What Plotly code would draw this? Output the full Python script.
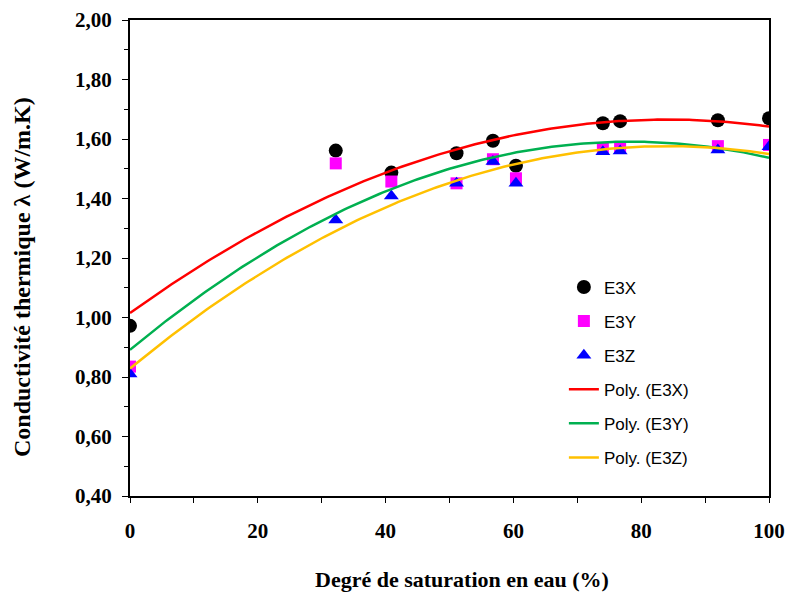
import numpy as np
import plotly.graph_objects as go

# Degré de saturation (%)
x_sat = [0, 32.2, 40.9, 51.1, 56.8, 60.4, 74.0, 76.7, 92.0, 100]
# Conductivité thermique (W/m.K)
e3x = [0.972, 1.561, 1.487, 1.552, 1.594, 1.510, 1.653, 1.660, 1.663, 1.670]
e3y = [0.835, 1.518, 1.457, 1.451, 1.532, 1.468, 1.569, 1.572, 1.576, 1.580]
e3z = [0.810, 1.328, 1.408, 1.451, 1.524, 1.451, 1.557, 1.560, 1.563, 1.574]

x_ticks = [0, 20, 40, 60, 80, 100]
y_ticks = [0.4, 0.6, 0.8, 1.0, 1.2, 1.4, 1.6, 1.8, 2.0]

x_title = "Degré de saturation en eau (%)"
y_title = "Conductivité thermique λ (W/m.K)"

series = [
    ("E3X", e3x, "circle", "#000000", 14, "#FF0000"),
    ("E3Y", e3y, "square", "#FF00FF", 12, "#00B050"),
    ("E3Z", e3z, "triangle-up", "#0000FF", 13, "#FFC000"),
]

fig = go.Figure()
for name, vals, sym, col, sz, _ in series:
    fig.add_trace(go.Scatter(
        x=x_sat, y=vals, mode="markers", name=name, legendgroup=name,
        marker=dict(symbol=sym, color=col, size=sz, line=dict(width=0)),
    ))

xs = np.linspace(0, 100, 201)
for name, vals, sym, col, sz, lcol in series:
    coef = np.polyfit(x_sat, vals, 2)
    fig.add_trace(go.Scatter(
        x=xs, y=np.polyval(coef, xs), mode="lines", name=f"Poly. ({name})",
        legendgroup="p" + name, line=dict(color=lcol, width=2.5),
    ))

tick_font = dict(family="Liberation Serif", size=21, color="#000000", weight="bold")

fig.update_layout(
    width=787, height=593,
    margin=dict(l=130, r=18, t=20, b=97),
    paper_bgcolor="white", plot_bgcolor="white",
    separators=",.",
    showlegend=True,
    legend=dict(
        x=0.679, y=0.476, xanchor="left", yanchor="top",
        font=dict(family="Liberation Sans", size=17, color="#000000"),
        bgcolor="rgba(0,0,0,0)", traceorder="grouped", tracegroupgap=9,
    ),
    xaxis=dict(
        range=[0, 100], tickvals=x_ticks, ticktext=[str(v) for v in x_ticks],
        showgrid=False, zeroline=False, showline=True, linecolor="black",
        linewidth=2, mirror=True, ticks="outside", ticklen=5, tickwidth=1,
        tickcolor="black", minor=dict(dtick=10, ticks="outside", ticklen=5, tickcolor="black"),
        tickfont=tick_font, ticklabelstandoff=10, automargin=False,
        ticklabeloverflow="allow",
    ),
    yaxis=dict(
        range=[0.4, 2.0], tickvals=y_ticks, tickformat=".2f",
        showgrid=False, zeroline=False, showline=True, linecolor="black",
        linewidth=2, mirror=True, ticks="outside", ticklen=6, tickwidth=1,
        tickcolor="black", minor=dict(dtick=0.1, ticks="outside", ticklen=4, tickcolor="black"),
        tickfont=tick_font, ticklabelstandoff=6, automargin=False,
    ),
    annotations=[
        dict(text=x_title, xref="paper", yref="paper", x=0.52, y=-0.176,
             xanchor="center", yanchor="middle", showarrow=False,
             font=dict(family="Liberation Serif", size=22, color="#000000", weight="bold")),
        dict(text=y_title, xref="paper", yref="paper", x=-0.169, y=0.46,
             xanchor="center", yanchor="middle", showarrow=False, textangle=-90,
             font=dict(family="Liberation Serif", size=24, color="#000000", weight="bold")),
    ],
)

fig.write_html(
    "out.html",
    config={"displayModeBar": False},
    post_script="document.body.style.margin='0';document.body.style.overflow='hidden';",
)
